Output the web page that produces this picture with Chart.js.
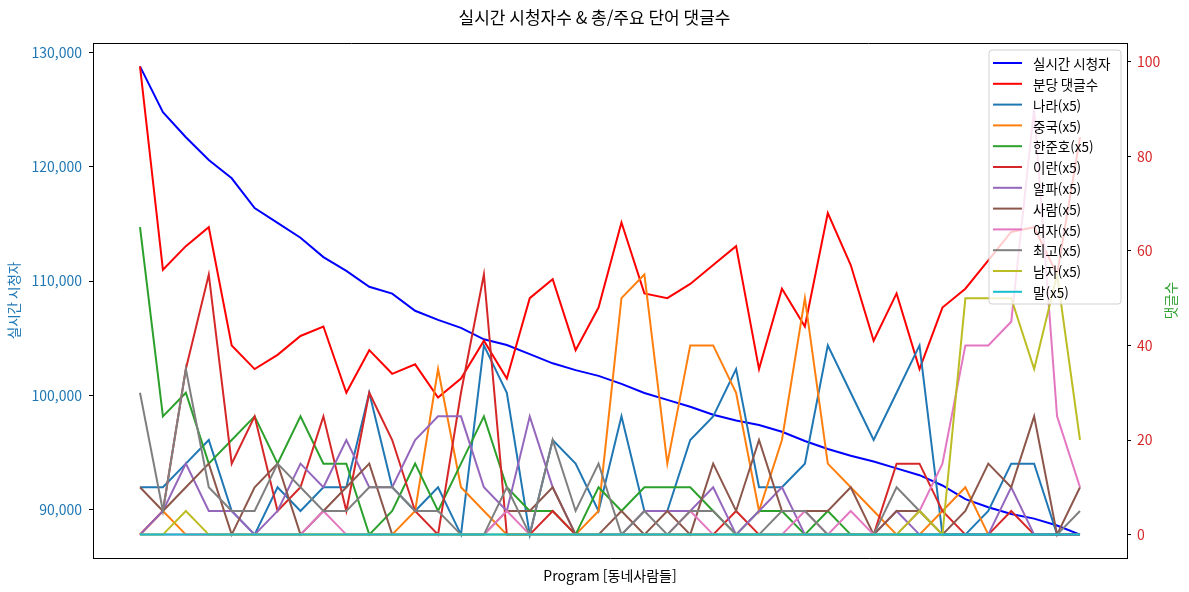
<!DOCTYPE html>
<html lang="ko">
<head>
<meta charset="utf-8">
<title>실시간 시청자수 &amp; 총/주요 단어 댓글수</title>
<script src="https://cdn.jsdelivr.net/npm/chart.js@4.4.1/dist/chart.umd.min.js"></script>
<style>
    html, body { margin: 0; padding: 0; background: #fff; }
    #chart { display: block; }
</style>
</head>
<body>
<canvas id="chart" width="1189" height="592"></canvas>
<script>
// ===================================
// DATA
// ===================================

// live viewers, left axis
const viewers = [128800, 124800, 122600, 120600, 119000, 116400, 115100, 113800, 112100, 110900,
    109500, 108900, 107400, 106600, 105900, 104900, 104400, 103600, 102800, 102200,
    101700, 101000, 100200, 99600, 99000, 98300, 97800, 97400, 96800, 96000,
    95300, 94700, 94200, 93600, 93000, 92100, 90900, 90200, 89600, 89200, 88600, 87800];

// comments per minute, right axis
const commentsPerMin = [99, 56, 61, 65, 40, 35, 38, 42, 44, 30, 39, 34, 36, 29, 33, 41, 33, 50, 54, 39,
    48, 66, 51, 50, 53, 57, 61, 35, 52, 44, 68, 57, 41, 51, 35, 48, 52, 58, 64, 65, 55, 84];

// keyword counts (x5), right axis
const nara     = [10, 10, 15, 20, 5, 0, 10, 5, 10, 10, 30, 10, 5, 10, 0, 40, 30, 0, 20, 15, 5, 25, 5, 5, 20, 25, 35, 10, 10, 15, 40, 30, 20, 30, 40, 0, 0, 5, 15, 15, 0, 0];
const china    = [0, 5, 0, 0, 0, 0, 0, 0, 0, 0, 0, 0, 5, 35, 10, 5, 0, 0, 0, 0, 5, 50, 55, 15, 40, 40, 30, 5, 20, 50, 15, 10, 5, 0, 0, 5, 10, 0, 0, 0, 0, 0];
const hanJunho = [65, 25, 30, 15, 20, 25, 15, 25, 15, 15, 0, 5, 15, 5, 15, 25, 10, 5, 5, 0, 10, 5, 10, 10, 10, 5, 0, 5, 5, 0, 5, 0, 0, 0, 0, 0, 0, 0, 0, 0, 0, 0];
const iran     = [0, 5, 35, 55, 15, 25, 5, 10, 25, 5, 30, 20, 5, 0, 30, 55, 0, 0, 5, 0, 0, 0, 0, 0, 0, 0, 5, 0, 0, 0, 0, 0, 0, 15, 15, 5, 0, 0, 5, 0, 0, 0];
const alpha    = [0, 5, 15, 5, 5, 0, 5, 15, 10, 20, 10, 10, 20, 25, 25, 10, 5, 25, 10, 0, 0, 0, 5, 5, 5, 10, 0, 5, 10, 0, 0, 0, 0, 5, 0, 0, 0, 0, 10, 0, 0, 0];
const person   = [10, 5, 10, 15, 0, 10, 15, 0, 5, 10, 15, 0, 0, 0, 0, 0, 5, 5, 10, 0, 0, 5, 0, 5, 0, 15, 5, 20, 5, 5, 5, 10, 0, 5, 5, 0, 5, 15, 10, 25, 0, 10];
const woman    = [0, 0, 0, 0, 0, 0, 0, 0, 5, 0, 0, 0, 0, 0, 0, 0, 5, 0, 0, 0, 0, 0, 0, 0, 5, 0, 0, 0, 0, 5, 0, 5, 0, 0, 5, 15, 40, 40, 45, 90, 25, 10];
const best     = [30, 5, 35, 10, 5, 5, 15, 10, 5, 5, 10, 10, 5, 5, 0, 0, 10, 0, 20, 5, 15, 0, 5, 0, 5, 5, 0, 0, 5, 5, 0, 0, 0, 10, 5, 0, 0, 0, 0, 0, 0, 5];
const man      = [0, 0, 5, 0, 0, 0, 0, 0, 0, 0, 0, 0, 0, 0, 0, 0, 0, 0, 0, 0, 0, 0, 0, 0, 0, 0, 0, 0, 0, 0, 0, 0, 0, 0, 5, 0, 50, 50, 50, 35, 55, 20];
const word     = [0, 0, 0, 0, 0, 0, 0, 0, 0, 0, 0, 0, 0, 0, 0, 0, 0, 0, 0, 0, 0, 0, 0, 0, 0, 0, 0, 0, 0, 0, 0, 0, 0, 0, 0, 0, 0, 0, 0, 0, 0, 0];

// tick labels
const leftTicks = [90000, 100000, 110000, 120000, 130000];
const rightTicks = [0, 20, 40, 60, 80, 100];

// ===================================
// SERIES SETUP
// ===================================

const keywordSeries = [
    { label: '나라(x5)', values: nara, color: '#1f77b4' },
    { label: '중국(x5)', values: china, color: '#ff7f0e' },
    { label: '한준호(x5)', values: hanJunho, color: '#2ca02c' },
    { label: '이란(x5)', values: iran, color: '#d62728' },
    { label: '알파(x5)', values: alpha, color: '#9467bd' },
    { label: '사람(x5)', values: person, color: '#8c564b' },
    { label: '여자(x5)', values: woman, color: '#e377c2' },
    { label: '최고(x5)', values: best, color: '#7f7f7f' },
    { label: '남자(x5)', values: man, color: '#bcbd22' },
    { label: '말(x5)', values: word, color: '#17becf' },
];

const toPoints = values => values.map((v, i) => ({ x: i, y: v }));

function lineSet(label, values, color, axis) {
    return {
        label: label,
        data: toPoints(values),
        borderColor: color,
        backgroundColor: color,
        borderWidth: 2,
        pointRadius: 0,
        pointHoverRadius: 0,
        tension: 0,
        fill: false,
        yAxisID: axis
    };
}

const datasets = [
    lineSet('실시간 시청자', viewers, '#0000ff', 'y'),
    lineSet('분당 댓글수', commentsPerMin, '#ff0000', 'y1'),
    ...keywordSeries.map(s => lineSet(s.label, s.values, s.color, 'y1'))
];
// later series are drawn on top, like matplotlib
datasets.forEach((d, i) => { d.order = datasets.length - i; });

const FONT = "'Noto Sans CJK KR', 'Noto Sans', sans-serif";

// ===================================
// PLUGIN: top frame, right axis title, legend box
// ===================================

const frameAndLegend = {
    id: 'frameAndLegend',
    afterDraw(chart) {
        const { ctx, chartArea } = chart;
        ctx.save();

        // top spine
        ctx.strokeStyle = '#000';
        ctx.lineWidth = 1;
        ctx.beginPath();
        const top = Math.round(chartArea.top) + 0.5;
        ctx.moveTo(chartArea.left, top);
        ctx.lineTo(chartArea.right, top);
        ctx.stroke();

        // right axis title (reads bottom to top)
        ctx.save();
        ctx.translate(1171, (chartArea.top + chartArea.bottom) / 2);
        ctx.rotate(-Math.PI / 2);
        ctx.fillStyle = '#2ca02c';
        ctx.font = '13.5px ' + FONT;
        ctx.textAlign = 'center';
        ctx.textBaseline = 'middle';
        ctx.fillText('댓글수', 0, 0);
        ctx.restore();

        // legend
        const boxX = 989, boxY = 50, boxW = 132, boxH = 254, r = 3;
        ctx.beginPath();
        ctx.moveTo(boxX + r, boxY);
        ctx.arcTo(boxX + boxW, boxY, boxX + boxW, boxY + boxH, r);
        ctx.arcTo(boxX + boxW, boxY + boxH, boxX, boxY + boxH, r);
        ctx.arcTo(boxX, boxY + boxH, boxX, boxY, r);
        ctx.arcTo(boxX, boxY, boxX + boxW, boxY, r);
        ctx.closePath();
        ctx.fillStyle = 'rgba(255,255,255,0.8)';
        ctx.fill();
        ctx.strokeStyle = 'rgba(204,204,204,0.9)';
        ctx.lineWidth = 1;
        ctx.stroke();

        ctx.font = '13.5px ' + FONT;
        ctx.textAlign = 'left';
        ctx.textBaseline = 'middle';
        chart.data.datasets.forEach((ds, i) => {
            const y = 63 + i * 20.8;
            ctx.strokeStyle = ds.borderColor;
            ctx.lineWidth = 2;
            ctx.beginPath();
            ctx.moveTo(993, y);
            ctx.lineTo(1022, y);
            ctx.stroke();
            ctx.fillStyle = '#000';
            ctx.fillText(ds.label, 1033, y + 1);
        });

        ctx.restore();
    }
};

// ===================================
// CHART
// ===================================

Chart.defaults.font.family = FONT;
Chart.defaults.font.size = 14;
Chart.defaults.color = '#000';

const tickGrid = { drawOnChartArea: false, drawTicks: true, tickLength: 4, color: '#000', lineWidth: 1 };
const spine = { display: true, color: '#000', width: 1 };

new Chart(document.getElementById('chart').getContext('2d'), {
    type: 'line',
    data: { datasets: datasets },
    options: {
        responsive: false,
        animation: false,
        events: [],
        layout: { padding: 0 },
        plugins: {
            legend: { display: false },
            tooltip: { enabled: false },
            title: {
                display: true,
                text: '실시간 시청자수 & 총/주요 단어 댓글수',
                color: '#000',
                font: { size: 17, weight: 'normal' },
                padding: { top: 7, bottom: 15.6 }
            }
        },
        scales: {
            x: {
                type: 'linear',
                min: -2.05,
                max: 43.05,
                grid: { display: false },
                border: spine,
                ticks: { display: false },
                title: {
                    display: true,
                    text: 'Program [동네사람들]',
                    color: '#000',
                    font: { size: 14 },
                    padding: { top: 0, bottom: 8 }
                },
                afterFit: scale => { scale.height = 34; }
            },
            y: {
                position: 'left',
                min: 85750,
                max: 130850,
                grid: tickGrid,
                border: spine,
                afterBuildTicks: scale => { scale.ticks = leftTicks.map(v => ({ value: v })); },
                ticks: {
                    color: '#1f77b4',
                    padding: 7,
                    font: { size: 14 },
                    callback: v => v.toLocaleString('en-US')
                },
                title: {
                    display: true,
                    text: '실시간 시청자',
                    color: '#1f77b4',
                    font: { size: 13.5 },
                    padding: { top: 6, bottom: 0 }
                },
                afterFit: scale => { scale.width = 93; }
            },
            y1: {
                position: 'right',
                min: -4.95,
                max: 103.95,
                grid: tickGrid,
                border: spine,
                afterBuildTicks: scale => { scale.ticks = rightTicks.map(v => ({ value: v })); },
                ticks: {
                    color: '#d62728',
                    padding: 6,
                    font: { size: 14 },
                    callback: v => String(v)
                },
                afterFit: scale => { scale.width = 62; }
            }
        }
    },
    plugins: [frameAndLegend]
});
</script>
</body>
</html>
